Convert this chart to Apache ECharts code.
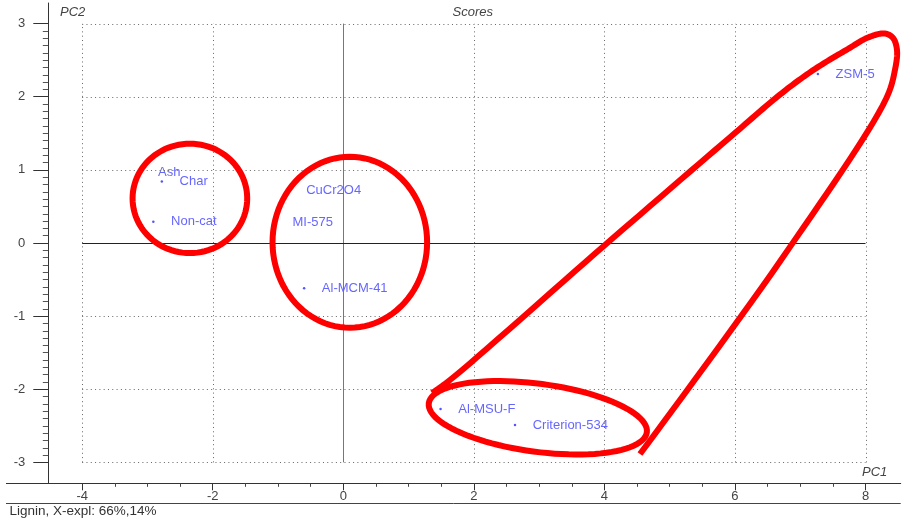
<!DOCTYPE html>
<html>
<head>
<meta charset="utf-8">
<title>Scores</title>
<script src="https://cdn.jsdelivr.net/npm/echarts@6/dist/echarts.min.js"></script>
<style>
  html, body { margin: 0; padding: 0; background: #ffffff; }
  #chart { width: 908px; height: 523px; }
</style>
</head>
<body>
<div id="chart"></div>
<script>
// Sample names and their scores on the first two principal components
const sampleNames = ['Ash', 'Char', 'Non-cat', 'CuCr2O4', 'MI-575', 'Al-MCM-41', 'Al-MSU-F', 'Criterion-534', 'ZSM-5'];
const pc1Scores = [-3.11, -2.78, -2.91, -0.84, -1.05, -0.60, 1.49, 2.63, 7.27];
const pc2Scores = [0.97, 0.84, 0.29, 0.72, 0.28, -0.62, -2.27, -2.49, 2.31];

// Tick labels on both axes
const xTickLabels = [-4, -2, 0, 2, 4, 6, 8];
const yTickLabels = [-3, -2, -1, 0, 1, 2, 3];

// Hand-drawn group outlines, in score units
const groupRings = [
  { center: [-2.35, 0.61], radii: [0.878, 0.748], tilt: 0 },
  { center: [0.10, 0.01], radii: [1.184, 1.169], tilt: 0 },
  { center: [2.98, -2.39], radii: [1.685, 0.465], tilt: 7.6 }
];
const zeolitePath = [
  [4.545, -2.886], [6.705, -0.232], [8.313, 1.969], [8.451, 2.366], [8.482, 2.640],
  [8.421, 2.804], [8.298, 2.865], [8.038, 2.810], [7.731, 2.653], [7.226, 2.380],
  [6.720, 2.051], [6.000, 1.504], [4.009, -0.027], [1.634, -1.874], [1.359, -2.051]
];

const FONT = '"Liberation Sans", Arial, sans-serif';
const X_RANGE = [-4.519, 8.539];
const Y_RANGE = [-3.286, 3.282];

// minor tick positions between the labelled ticks
function minorTicks(labels, perUnit) {
  const out = [];
  const lo = Math.round(labels[0] * perUnit), hi = Math.round(labels[labels.length - 1] * perUnit);
  for (let i = lo; i <= hi; i++) {
    const v = i / perUnit;
    if (labels.indexOf(v) === -1) out.push(v);
  }
  return out;
}

// centripetal Catmull-Rom through pixel points, for a smooth pen stroke
function smoothStroke(pts, steps) {
  const out = [];
  const n = pts.length;
  const get = i => pts[Math.max(0, Math.min(n - 1, i))];
  const dist = (a, b) => Math.pow(Math.hypot(b[0] - a[0], b[1] - a[1]) || 1e-6, 0.5);
  for (let i = 0; i < n - 1; i++) {
    const p0 = get(i - 1), p1 = get(i), p2 = get(i + 1), p3 = get(i + 2);
    const t0 = 0, t1 = t0 + dist(p0, p1), t2 = t1 + dist(p1, p2), t3 = t2 + dist(p2, p3);
    for (let s = 0; s < steps; s++) {
      const t = t1 + (t2 - t1) * s / steps;
      const lerp = (a, b, ta, tb) => {
        if (tb - ta < 1e-9) return a.slice();
        const w = (t - ta) / (tb - ta);
        return [a[0] + (b[0] - a[0]) * w, a[1] + (b[1] - a[1]) * w];
      };
      const A1 = lerp(p0, p1, t0, t1), A2 = lerp(p1, p2, t1, t2), A3 = lerp(p2, p3, t2, t3);
      const B1 = lerp(A1, A2, t0, t2), B2 = lerp(A2, A3, t1, t3);
      out.push(lerp(B1, B2, t1, t2));
    }
  }
  out.push(pts[n - 1]);
  return out;
}

// dotted grid and solid zero lines spanning the labelled range
const guideSegments = [];
xTickLabels.forEach(v => guideSegments.push([v, yTickLabels[0], v, yTickLabels[yTickLabels.length - 1], v === 0 ? 2 : 0]));
yTickLabels.forEach(v => guideSegments.push([xTickLabels[0], v, xTickLabels[xTickLabels.length - 1], v, v === 0 ? 1 : 0]));

const samples = sampleNames.map((n, i) => ({ name: n, value: [pc1Scores[i], pc2Scores[i]] }));

const chart = echarts.init(document.getElementById('chart'), null, { renderer: 'canvas' });

const axisText = { color: '#444', fontFamily: FONT, fontSize: 13 };

chart.setOption({
  animation: false,
  backgroundColor: '#ffffff',
  grid: { left: 48.3, right: 7.3, top: 3, bottom: 39.7, outerBoundsMode: 'none' },
  xAxis: [
    {
      type: 'value', min: X_RANGE[0], max: X_RANGE[1],
      axisLine: { show: true, onZero: false, lineStyle: { color: '#333', width: 1 } },
      axisTick: { show: true, inside: false, length: 7, customValues: xTickLabels, lineStyle: { color: '#333' } },
      axisLabel: Object.assign({ customValues: xTickLabels, margin: 7 }, axisText),
      splitLine: { show: false }
    },
    {
      type: 'value', min: X_RANGE[0], max: X_RANGE[1], position: 'bottom',
      axisLine: { show: false, onZero: false },
      axisTick: { show: true, inside: false, length: 3.5, customValues: minorTicks(xTickLabels, 2), lineStyle: { color: '#444' } },
      axisLabel: { show: false },
      splitLine: { show: false }
    }
  ],
  yAxis: [
    {
      type: 'value', min: Y_RANGE[0], max: Y_RANGE[1],
      axisLine: { show: true, onZero: false, lineStyle: { color: '#333', width: 1 } },
      axisTick: { show: true, inside: false, length: 15, customValues: yTickLabels, lineStyle: { color: '#333' } },
      axisLabel: Object.assign({ customValues: yTickLabels, margin: 23 }, axisText),
      splitLine: { show: false }
    },
    {
      type: 'value', min: Y_RANGE[0], max: Y_RANGE[1], position: 'left',
      axisLine: { show: false, onZero: false },
      axisTick: { show: true, inside: false, length: 5.5, customValues: minorTicks(yTickLabels, 10), lineStyle: { color: '#555' } },
      axisLabel: { show: false },
      splitLine: { show: false }
    }
  ],
  series: [
    {
      name: 'samples',
      type: 'scatter',
      z: 2,
      symbol: 'circle',
      symbolSize: 2.5,
      itemStyle: { color: '#2b2bff' },
      label: {
        show: true, position: 'right', distance: 16.5,
        formatter: p => p.name,
        color: '#4040ff', fontFamily: FONT, fontSize: 13
      },
      data: samples
    },
    {
      name: 'guides',
      type: 'custom',
      z: 3,
      silent: true,
      data: guideSegments,
      renderItem: function (params, api) {
        const a = api.coord([api.value(0), api.value(1)]);
        const b = api.coord([api.value(2), api.value(3)]);
        const kind = api.value(4);
        const vertical = Math.abs(a[0] - b[0]) < 0.5;
        const p1 = vertical ? [Math.round(a[0]) + 0.5, a[1]] : [a[0], Math.round(a[1]) + 0.5];
        const p2 = vertical ? [Math.round(b[0]) + 0.5, b[1]] : [b[0], Math.round(b[1]) + 0.5];
        return {
          type: 'line',
          shape: { x1: p1[0], y1: p1[1], x2: p2[0], y2: p2[1] },
          style: {
            stroke: kind === 1 ? '#222' : (kind === 2 ? '#777' : '#666'),
            lineWidth: 1,
            lineDash: kind === 0 ? [1, 3.3] : null
          }
        };
      }
    },
    {
      name: 'groups',
      type: 'custom',
      z: 5,
      silent: true,
      data: groupRings.map(r => [r.center[0], r.center[1], r.radii[0], r.radii[1], r.tilt]),
      renderItem: function (params, api) {
        const c = api.coord([api.value(0), api.value(1)]);
        const s = api.size([api.value(2), api.value(3)]);
        const phi = api.value(4) * Math.PI / 180;
        const pts = [];
        for (let i = 0; i < 96; i++) {
          const t = i / 96 * Math.PI * 2;
          const ex = s[0] * Math.cos(t), ey = s[1] * Math.sin(t);
          pts.push([c[0] + ex * Math.cos(phi) - ey * Math.sin(phi), c[1] + ex * Math.sin(phi) + ey * Math.cos(phi)]);
        }
        return {
          type: 'polygon',
          shape: { points: pts },
          style: { fill: 'none', stroke: '#ff0000', lineWidth: 6 }
        };
      }
    },
    {
      // outline around the zeolite-like samples, drawn as one smooth stroke
      name: 'zeolite group',
      type: 'custom',
      z: 5,
      silent: true,
      clip: false,
      data: [zeolitePath[0]],
      renderItem: function (params, api) {
        const pts = smoothStroke(zeolitePath.map(p => api.coord(p)), 16);
        return {
          type: 'polyline',
          shape: { points: pts },
          style: { fill: 'none', stroke: '#ff0000', lineWidth: 6, lineJoin: 'round' }
        };
      }
    }
  ],
  graphic: [
    { type: 'line', silent: true, shape: { x1: 6, y1: 483.5, x2: 48.3, y2: 483.5 }, style: { stroke: '#333', lineWidth: 1 } },
    { type: 'line', silent: true, shape: { x1: 6, y1: 503.5, x2: 900.7, y2: 503.5 }, style: { stroke: '#444', lineWidth: 1 } },
    { type: 'text', silent: true, left: 452.5, top: 6, style: { text: 'Scores', fill: '#444', font: 'italic 13px ' + FONT } },
    { type: 'text', silent: true, left: 60, top: 6, style: { text: 'PC2', fill: '#444', font: 'italic 13px ' + FONT } },
    { type: 'text', silent: true, left: 862, top: 465.5, style: { text: 'PC1', fill: '#444', font: 'italic 13px ' + FONT } },
    { type: 'text', silent: true, left: 9.5, top: 504.5, style: { text: 'Lignin, X-expl: 66%,14%', fill: '#333', font: '13.5px ' + FONT } }
  ]
});
</script>
</body>
</html>
